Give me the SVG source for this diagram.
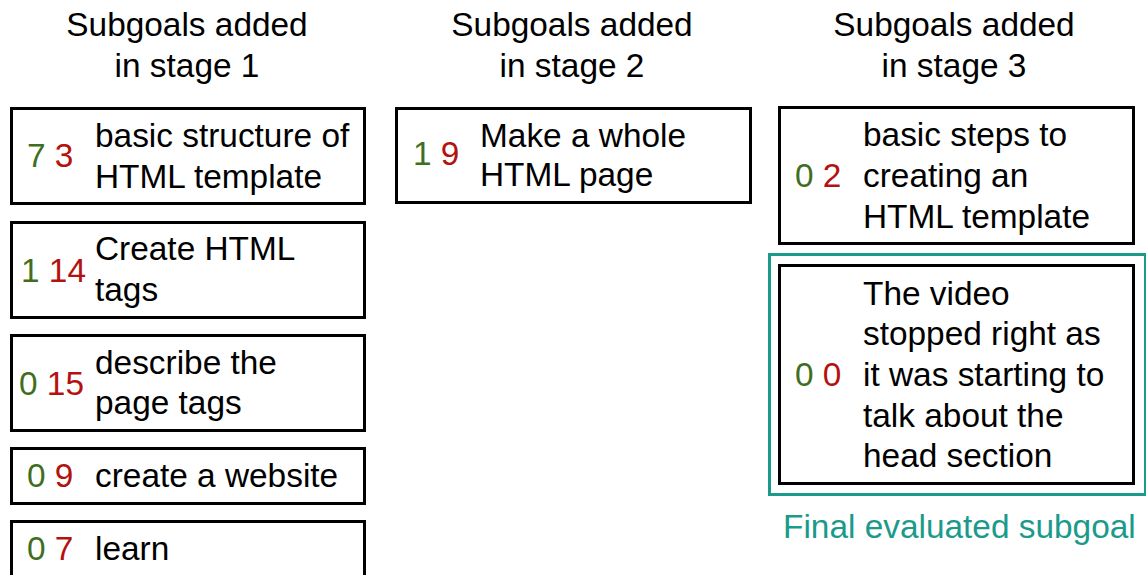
<svg xmlns="http://www.w3.org/2000/svg" width="1146" height="575" viewBox="0 0 1146 575">
<style>
text{font-family:"Liberation Sans",Arial,Helvetica,sans-serif;font-size:33.4px;fill:#000}
.h{text-anchor:middle}
.box{fill:#fff;stroke:#000;stroke-width:3}
.g{fill:#3f6e22}
.r{fill:#b3120f}
.teal{fill:none;stroke:#1b9a8c;stroke-width:3}
.tl{fill:#1b9a8c}
</style>
<rect width="1146" height="575" fill="#fff"/>
<g id="headers">
<text class="h" x="187" y="36">Subgoals added</text>
<text class="h" x="187" y="77">in stage 1</text>
<text class="h" x="572" y="36">Subgoals added</text>
<text class="h" x="572" y="77">in stage 2</text>
<text class="h" x="954" y="36">Subgoals added</text>
<text class="h" x="954" y="77">in stage 3</text>
</g>
<g id="connectors"></g>
<g id="n1">
<rect class="box" x="11.5" y="108.5" width="353" height="95"/>
<text x="27" y="167"><tspan class="g">7</tspan> <tspan class="r">3</tspan></text>
<text x="95" y="147">basic structure of</text>
<text x="95" y="188">HTML template</text>
</g>
<g id="n2">
<rect class="box" x="11.5" y="222.5" width="353" height="95"/>
<text x="21" y="282"><tspan class="g">1</tspan> <tspan class="r">14</tspan></text>
<text x="95" y="260">Create HTML</text>
<text x="95" y="301">tags</text>
</g>
<g id="n3">
<rect class="box" x="11.5" y="335.5" width="353" height="95"/>
<text x="19" y="395"><tspan class="g">0</tspan> <tspan class="r">15</tspan></text>
<text x="95" y="374">describe the</text>
<text x="95" y="414">page tags</text>
</g>
<g id="n4">
<rect class="box" x="11.5" y="448.5" width="353" height="55"/>
<text x="27" y="487"><tspan class="g">0</tspan> <tspan class="r">9</tspan></text>
<text x="95" y="487">create a website</text>
</g>
<g id="n5">
<rect class="box" x="11.5" y="521.5" width="353" height="60"/>
<text x="27" y="560"><tspan class="g">0</tspan> <tspan class="r">7</tspan></text>
<text x="95" y="560">learn</text>
</g>
<g id="n6">
<rect class="box" x="396.5" y="108.5" width="354" height="94"/>
<text x="413" y="165"><tspan class="g">1</tspan> <tspan class="r">9</tspan></text>
<text x="480" y="147">Make a whole</text>
<text x="480" y="186">HTML page</text>
</g>
<g id="n7">
<rect class="box" x="779.5" y="107.5" width="354" height="136"/>
<text x="795" y="187"><tspan class="g">0</tspan> <tspan class="r">2</tspan></text>
<text x="863" y="146">basic steps to</text>
<text x="863" y="187">creating an</text>
<text x="863" y="228">HTML template</text>
</g>
<g id="n8">
<rect class="teal" x="769.5" y="254.5" width="376" height="240"/>
<rect class="box" x="779.5" y="265.5" width="354" height="218"/>
<text x="795" y="386"><tspan class="g">0</tspan> <tspan class="r">0</tspan></text>
<text x="863" y="305">The video</text>
<text x="863" y="345">stopped right as</text>
<text x="863" y="386">it was starting to</text>
<text x="863" y="427">talk about the</text>
<text x="863" y="467">head section</text>
<text class="tl" x="783" y="538">Final evaluated subgoal</text>
</g>
</svg>
